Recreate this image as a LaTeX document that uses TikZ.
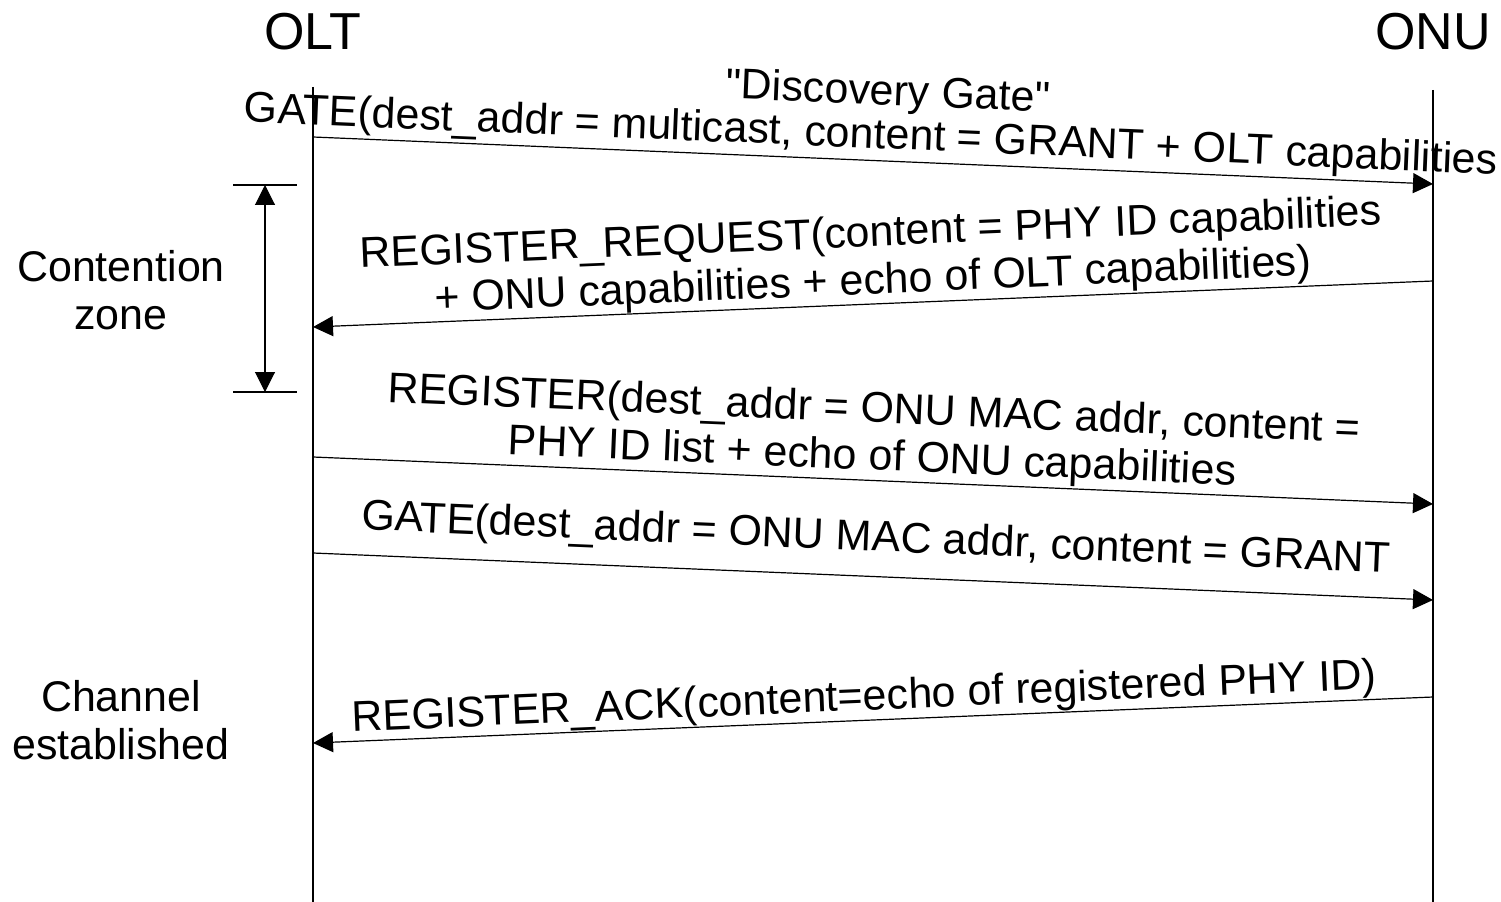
\documentclass[tikz,border=0pt]{standalone}
\usepackage{fontspec}
\setmainfont{Liberation Sans}
\newfontfamily\qfont{Liberation Sans}
\usetikzlibrary{arrows.meta}
\begin{document}
\begin{tikzpicture}[x=0.75pt,y=-0.75pt,
  lbl/.style={font=\fontsize{32.2}{35.5}\selectfont, inner sep=0pt, align=center},
  hdr/.style={font=\fontsize{39}{44}\selectfont, inner sep=0pt},
  life/.style={line width=1.5pt},
  msg/.style={line width=0.9pt, -{Triangle[length=15pt,width=15pt]}},
  zone/.style={line width=0.8pt, {Triangle[length=15pt,width=15pt]}-{Triangle[length=15pt,width=15pt]}},
  tick/.style={line width=0.8pt}]
\useasboundingbox (0,0) rectangle (1501,902);
% headers
\node[hdr] (olt) at (313,32) {OLT};
\node[hdr] (onu) at (1433,32) {ONU};
% lifelines
\coordinate (oltTop) at (313,87);
\coordinate (oltBot) at (313,902);
\coordinate (onuTop) at (1433,90);
\coordinate (onuBot) at (1433,902);
\draw[life] (oltTop) -- (oltBot);
\draw[life] (onuTop) -- (onuBot);
% message end points
\coordinate (a1) at (313,137);  \coordinate (b1) at (1433,184);
\coordinate (b2) at (1433,281); \coordinate (a2) at (313,327);
\coordinate (a3) at (313,457);  \coordinate (b3) at (1433,504);
\coordinate (a4) at (313,553);  \coordinate (b4) at (1433,600);
\coordinate (b5) at (1433,697); \coordinate (a5) at (313,743);
\draw[msg] (a1) -- (b1);
\draw[msg] (b2) -- (a2);
\draw[msg] (a3) -- (b3);
\draw[msg] (a4) -- (b4);
\draw[msg] (b5) -- (a5);
% message labels
\node[lbl, rotate=-2.4] (t1a) at (888,94) {{\qfont"}Discovery Gate{\qfont"}};
\node[lbl, rotate=-2.4] (t1b) at (871,137) {GATE(dest\_addr = multicast, content = GRANT + OLT capabilities};
\node[lbl, rotate=2.4] (t2) at (872,259) {REGISTER\_REQUEST(content = PHY ID capabilities\\+ ONU capabilities + echo of OLT capabilities)};
\node[lbl, rotate=-2.4] (t3) at (873,435) {REGISTER(dest\_addr = ONU MAC addr, content =\\PHY ID list + echo of ONU capabilities};
\node[lbl, rotate=-2.4] (t4) at (876,540) {GATE(dest\_addr = ONU MAC addr, content = GRANT};
\node[lbl, rotate=2.4] (t5) at (864,699) {REGISTER\_ACK(content=echo of registered PHY ID)};
% contention zone
\coordinate (zt1) at (233,185); \coordinate (zt2) at (297,185);
\coordinate (zb1) at (233,392); \coordinate (zb2) at (297,392);
\coordinate (zt) at (265,185);  \coordinate (zb) at (265,392);
\draw[tick] (zt1) -- (zt2);
\draw[tick] (zb1) -- (zb2);
\draw[zone] (zt) -- (zb);
\node[lbl] (cz) at (121,290) {Contention\\zone};
\node[lbl] (ce) at (121,720) {Channel\\established};
\end{tikzpicture}
\end{document}
